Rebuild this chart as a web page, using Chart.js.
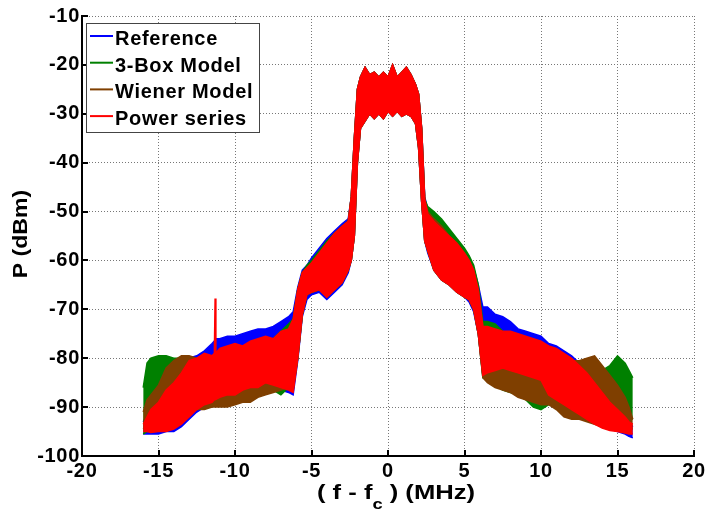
<!DOCTYPE html>
<html><head><meta charset="utf-8">
<script src="https://cdn.jsdelivr.net/npm/chart.js@4.4.1/dist/chart.umd.min.js"></script>
<style>html,body{margin:0;padding:0;background:#fff;}#wrap{width:715px;height:510px;}</style>
</head><body><div id="wrap"><canvas id="c" width="715" height="510"></canvas></div>
<script>
// ---- data ----
const freq = [
 -16,-15.75,-15.5,-15,-14.5,-14,-13.5,-13,-12.5,-12,
 -11.5,-11.35,-11.3,-11.25,-11,-10.5,-10,-9.5,-9,-8.5,
 -8,-7.5,-7,-6.5,-6.2,-5.9,-5.6,-5.3,-5,-4.5,
 -4,-3.5,-3,-2.6,-2.4,-2.2,-2,-1.8,-1.5,-1.2,
 -0.9,-0.6,-0.3,0,0.3,0.6,0.9,1.2,1.5,1.8,
 2,2.2,2.4,2.6,3,3.5,4,4.5,5,5.3,
 5.6,5.9,6.2,6.5,7,7.5,8,8.5,9,9.5,
 10,10.5,11,11.5,12,12.5,13,13.5,14,14.5,
 15,15.5,15.75,16];

const xTicks = [-20,-15,-10,-5,0,5,10,15,20];
const yTicks = [-100,-90,-80,-70,-60,-50,-40,-30,-20,-10];
const seriesNames = ['Reference','3-Box Model','Wiener Model','Power series'];
const xTitleParts = ['( f - f','c',' ) (MHz)'];
const yTitle = 'P (dBm)';

// Reference (blue) envelope
const refUpper = [
 -93,-91.5,-90,-88.5,-86,-84.5,-82.5,-80,-79.5,-78.5,
 -77,-76.5,-76,-76,-76,-75.5,-75.5,-75,-74.5,-74,
 -74,-73.5,-72.5,-71.5,-70.5,-65.5,-62,-61,-59.5,-57.5,
 -55.5,-54,-52.5,-51.5,-47,-35,-25,-22.5,-20.5,-22,
 -21.5,-22.5,-21.5,-22.5,-20,-22.5,-21.5,-20.5,-22,-24,
 -26,-33,-47,-49.5,-50.5,-52.5,-54,-56,-58,-59.5,
 -61.5,-65,-69.5,-69.5,-71,-71.5,-72.5,-74,-74.5,-75,
 -75.5,-77,-77.5,-78.5,-79.5,-81,-82.5,-84.5,-87,-88.5,
 -90,-92,-93,-94];
const refLower = [
 -95.5,-95.5,-95.5,-95.5,-95,-95,-94,-92.5,-91,-90,
 -89.5,-89,-89,-89,-88.5,-88,-88,-87,-86.5,-86.5,
 -85.5,-86,-86.5,-87,-87.5,-80.5,-71.5,-68,-67,-66.5,
 -68,-66.5,-65,-62.5,-60,-55,-40,-33,-31.5,-30,
 -31,-30,-31,-29.5,-30.5,-29.5,-30.5,-30,-30.5,-32,
 -37,-48,-56,-58.5,-62,-64,-65,-66.5,-67.5,-68.5,
 -70.5,-75,-83.5,-83,-82.5,-82.5,-83,-83.5,-84,-84.5,
 -85,-86.5,-87.5,-88.5,-89.5,-90.5,-92,-93,-94,-94.5,
 -95,-95.5,-96,-96.3];

// 3-Box Model (green) envelope
const boxUpper = [
 -86,-81,-80,-79.5,-79.5,-80,-80,-80.5,-80.5,-80.5,
 -80,-80,-80,-80,-80,-79.5,-79,-78.5,-78,-77.5,
 -77,-76,-74.5,-73,-72,-66,-62.5,-61,-60,-58,
 -56,-54.5,-53,-52,-47,-35,-25,-22.5,-20.5,-22,
 -21.5,-22.5,-21.5,-22.5,-20,-22.5,-21.5,-20.5,-22,-24,
 -26,-33,-47.5,-49,-50,-51.5,-53.5,-55.5,-57.5,-59,
 -61,-65,-72.5,-72.5,-73,-74.5,-75.5,-76,-77,-77.5,
 -78,-78.5,-79,-80,-80.5,-81,-81.5,-82,-82.5,-81.5,
 -79.5,-81,-82.5,-84];
const boxLower = [
 -95.5,-95,-94,-92.5,-91.5,-91,-90.5,-90.5,-90.5,-90,
 -89.5,-89.5,-89.5,-89.5,-89.5,-89,-89,-88.5,-88,-87.5,
 -87,-86.5,-87.5,-86,-86,-80,-71,-67,-66.5,-66,
 -67,-66,-64.5,-62,-60,-55,-40,-33,-31.5,-30,
 -31,-30,-31,-29.5,-30.5,-29.5,-30.5,-30,-30.5,-32,
 -37,-48,-56,-58,-62,-64,-65,-66.5,-67.5,-68,
 -70,-75,-84,-84.5,-85.5,-86.5,-87,-87.5,-88.5,-90,
 -90.5,-89.5,-89.5,-90,-90.5,-91,-91.5,-92,-92.5,-92.5,
 -92,-92,-92,-92.5];

// Wiener Model (brown) envelope
const wienerUpper = [
 -91,-88.5,-87.5,-85.5,-82,-80.5,-79.5,-79.5,-80,-80,
 -80,-80,-80,-80,-80,-80,-79.5,-79,-78.5,-78,
 -77.5,-77,-76,-74.5,-72.5,-66,-62.5,-61.5,-60.5,-58.5,
 -56.5,-54.5,-53,-52,-47,-35,-25,-22.5,-20.5,-22,
 -21.5,-22.5,-21.5,-22.5,-20,-22.5,-21.5,-20.5,-22,-24,
 -26,-33,-47.5,-50,-51.5,-53,-55,-56.5,-58.5,-60,
 -62,-66,-73.5,-74,-75,-76,-76.5,-77,-77.5,-78,
 -78.5,-79,-79.5,-80,-80.5,-80.5,-80,-79.5,-81.5,-83.5,
 -85.5,-88,-90,-92.5];
const wienerLower = [
 -94.5,-93.5,-93,-92.5,-92,-91.5,-91,-91,-90.5,-90.5,
 -90,-90,-90,-90,-90,-90,-89.5,-89,-89,-88,
 -87.5,-87,-86.5,-86,-86.5,-80,-71,-67,-66.5,-66,
 -67.5,-66,-64.5,-62,-60,-55,-40,-33,-31.5,-30,
 -31,-30,-31,-29.5,-30.5,-29.5,-30.5,-30,-30.5,-32,
 -37,-48,-56,-58,-62,-64,-65,-66.5,-67.5,-68,
 -70,-75,-84,-85,-86,-86.5,-87,-88,-88.5,-89,
 -89.5,-89.5,-90.5,-92,-92.5,-92.5,-93,-93.5,-94,-94.3,
 -94.5,-94.5,-94.5,-94.5];

// Power series (red) envelope
const psUpper = [
 -93.5,-92,-90.5,-89,-86.5,-85,-83,-80.5,-80,-79,
 -79.5,-79,-67.8,-79,-78,-77.5,-77,-77.5,-76.5,-76,
 -75.5,-76,-74.5,-74,-72,-66,-62.5,-61.5,-60.5,-58.5,
 -56.5,-54.5,-53,-52,-47,-35,-25,-22.5,-20.5,-22,
 -21.5,-22.5,-21.5,-22.5,-20,-22.5,-21.5,-20.5,-22,-24,
 -26,-33,-47.5,-50.5,-52,-53.5,-55,-56.5,-58.5,-60,
 -62,-66,-73.5,-73.5,-74,-74.5,-74.5,-75,-75.5,-76,
 -76.5,-77.5,-78,-79,-80,-81.5,-83,-85,-87,-89,
 -90.5,-92,-93,-93.5];
const psLower = [
 -95,-95,-95.2,-95,-95,-94.5,-93.5,-92,-90.5,-89.5,
 -89,-88.5,-88.5,-88.5,-88,-87.5,-87.5,-86.5,-86,-86,
 -85,-85.5,-86,-86.5,-87,-80,-71,-67,-66.5,-66,
 -67.5,-66,-64.5,-62,-60,-55,-40,-33,-31.5,-30,
 -31,-30,-31,-29.5,-30.5,-29.5,-30.5,-30,-30.5,-32,
 -37,-48,-56,-58,-62,-64,-65,-66.5,-67.5,-68,
 -70,-75,-83.5,-83,-82.5,-82,-82.5,-83,-83.5,-84,
 -84.5,-87.5,-88.5,-89.5,-90.5,-91.5,-92.5,-93.5,-94.3,-94.8,
 -95,-95.3,-95.5,-95.5];

// ---- styling ----
const COLORS = {ref:'#0000ff', box:'#008000', wiener:'#7f3f00', ps:'#ff0000'};
const FONT = '"Liberation Sans", Arial, Helvetica, sans-serif';

const pts = arr => freq.map((f,i)=>({x:f, y:arr[i]}));
function band(lower, upper, color, name){
  const common = {borderColor:color, backgroundColor:color, borderWidth:1.5, pointRadius:0, tension:0};
  return [
    Object.assign({label:name+' (low)', data:pts(lower), fill:false}, common),
    Object.assign({label:name, data:pts(upper), fill:'-1'}, common)
  ];
}
// first datasets are drawn on top -> red first, blue last
const datasets = [].concat(
  band(psLower, psUpper, COLORS.ps, seriesNames[3]),
  band(wienerLower, wienerUpper, COLORS.wiener, seriesNames[2]),
  band(boxLower, boxUpper, COLORS.box, seriesNames[1]),
  band(refLower, refUpper, COLORS.ref, seriesNames[0])
);

const spacingPlugin = {
  id:'spacing',
  beforeDraw(chart){ chart.ctx.letterSpacing = '0.7px'; }
};

const decorPlugin = {
  id:'decor',
  afterDraw(chart){
    const ctx = chart.ctx, ca = chart.chartArea;
    const xs = chart.scales.x, ys = chart.scales.y;
    ctx.save();
    // inner tick marks
    ctx.strokeStyle = '#000'; ctx.lineWidth = 2; ctx.setLineDash([]);
    xTicks.forEach(v=>{
      const px = Math.round(xs.getPixelForValue(v));
      ctx.beginPath(); ctx.moveTo(px, ca.bottom); ctx.lineTo(px, ca.bottom-6); ctx.stroke();
    });
    yTicks.forEach(v=>{
      const py = Math.round(ys.getPixelForValue(v));
      ctx.beginPath(); ctx.moveTo(ca.left, py); ctx.lineTo(ca.left+6, py); ctx.stroke();
    });
    // legend
    const lx = 86, ly = 23, lw = 173, lh = 109;
    ctx.fillStyle = '#fff'; ctx.fillRect(lx, ly, lw, lh);
    ctx.strokeStyle = '#444'; ctx.lineWidth = 1; ctx.strokeRect(lx+0.5, ly+0.5, lw, lh);
    const legColors = [COLORS.ref, COLORS.box, COLORS.wiener, COLORS.ps];
    ctx.font = 'bold 20px ' + FONT; ctx.textAlign = 'left'; ctx.textBaseline = 'alphabetic';
    ctx.letterSpacing = '0.7px';
    seriesNames.forEach((name,i)=>{
      const base = 45 + i*26.7;
      ctx.strokeStyle = legColors[i]; ctx.lineWidth = 2;
      ctx.beginPath(); ctx.moveTo(90, base-9); ctx.lineTo(113, base-9); ctx.stroke();
      ctx.fillStyle = '#000'; ctx.fillText(name, 115, base);
    });
    ctx.restore();

    // x-axis title with subscript
    ctx.save();
    ctx.letterSpacing = '0px';
    ctx.fillStyle = '#000'; ctx.textBaseline = 'alphabetic'; ctx.textAlign = 'left';
    const big = 'bold 21px ' + FONT, small = 'bold 15px ' + FONT;
    const parts = [[xTitleParts[0], big, 0], [xTitleParts[1], small, 10], [xTitleParts[2], big, 0]];
    let w = 0;
    parts.forEach(p=>{ ctx.font = p[1]; w += ctx.measureText(p[0]).width; });
    ctx.translate(396, 499); ctx.scale(1.22, 1);
    let x = -w/2;
    parts.forEach(p=>{ ctx.font = p[1]; ctx.fillText(p[0], x, p[2]); x += ctx.measureText(p[0]).width; });
    ctx.restore();

    // y-axis title
    ctx.save();
    ctx.letterSpacing = '0px';
    ctx.fillStyle = '#000'; ctx.font = 'bold 21px ' + FONT;
    ctx.textAlign = 'center'; ctx.textBaseline = 'alphabetic';
    ctx.translate(27, 234); ctx.rotate(-Math.PI/2); ctx.scale(1.1, 1);
    ctx.fillText(yTitle, 0, 0);
    ctx.restore();
  }
};

const tickFont = {family: FONT, size: 20, weight: 'bold'};
new Chart(document.getElementById('c'), {
  type: 'line',
  data: {datasets},
  options: {
    responsive: false, animation: false, devicePixelRatio: 1,
    layout: {padding: {top: 16, right: 21, left: 0, bottom: 0}},
    plugins: {legend: {display: false}, tooltip: {enabled: false}},
    elements: {line: {borderJoinStyle: 'miter'}},
    scales: {
      x: {
        type: 'linear', min: -20, max: 20,
        afterBuildTicks: s => { s.ticks = xTicks.map(v=>({value:v})); },
        ticks: {color: '#000', font: tickFont, padding: 3, maxRotation: 0, autoSkip: false},
        grid: {color: '#777', lineWidth: 1, drawTicks: false},
        border: {display: true, color: '#000', width: 2, dash: [1, 2]},
        afterFit: s => { s.height = 54; }
      },
      y: {
        type: 'linear', min: -100, max: -10,
        afterBuildTicks: s => { s.ticks = yTicks.map(v=>({value:v})); },
        ticks: {color: '#000', font: tickFont, padding: 2, autoSkip: false},
        grid: {color: '#777', lineWidth: 1, drawTicks: false},
        border: {display: true, color: '#000', width: 2, dash: [1, 2]},
        afterFit: s => { s.width = 82; }
      }
    }
  },
  plugins: [spacingPlugin, decorPlugin]
});
</script></body></html>
